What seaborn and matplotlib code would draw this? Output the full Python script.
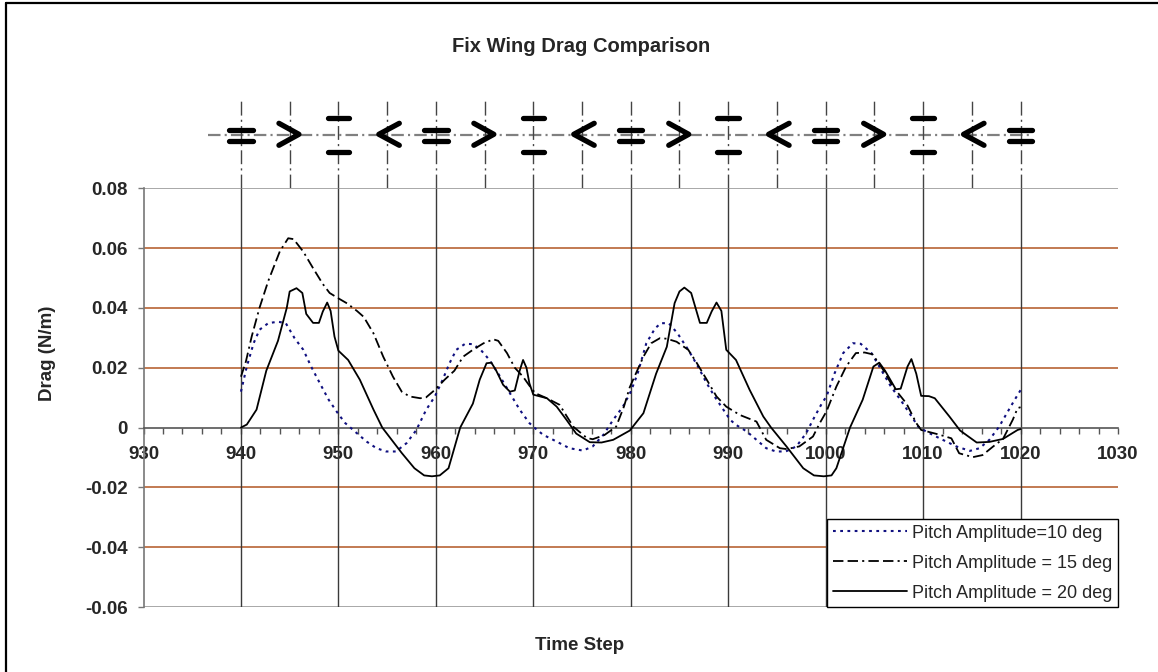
import numpy as np
import pandas as pd
import matplotlib
matplotlib.use('Agg')
import matplotlib.pyplot as plt
import seaborn as sns
from matplotlib.ticker import MultipleLocator
from matplotlib.lines import Line2D

# Pitch amplitude = 10 deg
time_10 = [940.0, 940.6, 941.3, 941.9, 942.8, 943.8, 944.6, 945.5, 946.4, 947.2, 948.1, 949.0,
           950.0, 950.7, 951.9, 952.9, 953.9, 954.9, 955.9, 957.0, 958.0, 959.0, 959.9, 960.7,
           961.4, 962.1, 963.0, 963.8, 964.6, 965.5, 966.6, 967.6, 968.6, 969.6, 970.1, 971.0,
           972.4, 973.7, 975.1, 976.1, 977.2, 978.2, 979.2, 980.0, 980.7, 981.6, 982.5, 983.1,
           983.9, 984.8, 985.9, 986.9, 987.8, 988.6, 989.5, 990.2, 990.8, 991.9, 992.9, 993.9,
           994.9, 995.9, 997.0, 998.0, 998.7, 999.6, 1000.1, 1000.9, 1001.8, 1002.8, 1003.6,
           1004.7, 1005.7, 1006.7, 1007.8, 1008.6, 1009.5, 1010.3, 1011.7, 1013.4, 1014.8,
           1015.8, 1016.8, 1017.8, 1018.7, 1019.4, 1020.0]
drag_10 = [0.012, 0.0204, 0.0282, 0.0327, 0.0349, 0.0354, 0.0349, 0.0299, 0.026, 0.0204, 0.0148, 0.0093,
           0.0045, 0.0015, -0.0019, -0.0047, -0.0069, -0.008, -0.008, -0.0052, -0.0008, 0.0059, 0.0104, 0.016,
           0.0215, 0.026, 0.028, 0.0279, 0.026, 0.0226, 0.017, 0.0115, 0.006, 0.0015, 0.0, -0.0024,
           -0.0047, -0.0069, -0.0077, -0.0063, -0.0024, 0.0026, 0.007, 0.012, 0.018, 0.0282, 0.0332, 0.0349,
           0.0349, 0.0315, 0.026, 0.0204, 0.0148, 0.0104, 0.006, 0.0026, 0.0009, -0.0013, -0.0041, -0.0069,
           -0.008, -0.008, -0.0063, -0.0019, 0.0026, 0.008, 0.0105, 0.018, 0.0249, 0.0282, 0.028,
           0.0249, 0.0193, 0.0137, 0.0087, 0.0048, 0.0003, -0.0013, -0.0036, -0.0063, -0.0078,
           -0.0069, -0.0041, 0.0003, 0.0054, 0.0093, 0.0125]

# Pitch amplitude = 15 deg
time_15 = [940.0, 940.5, 941.1, 941.9, 942.8, 944.0, 944.85, 945.4, 946.4, 947.4, 948.4, 949.1,
           950.0, 950.9, 951.9, 952.6, 953.6, 954.6, 955.6, 956.5, 957.3, 958.4, 959.0, 959.9,
           960.9, 961.9, 962.8, 963.8, 964.9, 965.9, 966.4, 967.3, 968.1, 968.95, 969.6, 970.2,
           971.4, 972.7, 974.1, 975.5, 976.1, 977.3, 978.5, 979.3, 979.9, 981.3, 982.1, 983.0,
           983.7, 984.7, 985.9, 986.7, 987.8, 988.8, 989.8, 991.2, 992.9, 993.9, 995.3, 996.0,
           997.3, 998.7, 999.4, 1000.1, 1001.1, 1002.1, 1003.1, 1004.0, 1004.8, 1005.7, 1006.9,
           1008.3, 1009.3, 1009.8, 1011.7, 1012.9, 1013.7, 1015.1, 1016.1, 1017.2, 1018.2,
           1019.2, 1019.7, 1020.0]
drag_15 = [0.017, 0.022, 0.0304, 0.040, 0.049, 0.059, 0.0633, 0.063, 0.0588, 0.0533, 0.048, 0.045,
           0.0432, 0.0415, 0.039, 0.037, 0.0315, 0.0237, 0.017, 0.012, 0.0104, 0.0098, 0.0101, 0.0126,
           0.016, 0.019, 0.0237, 0.026, 0.0282, 0.0295, 0.029, 0.0249, 0.020, 0.017, 0.014, 0.0115,
           0.0098, 0.0076, 0.0003, -0.0035, -0.0039, -0.0025, 0.0003, 0.007, 0.0135, 0.0237, 0.0282, 0.0299,
           0.0297, 0.0287, 0.026, 0.022, 0.016, 0.0104, 0.007, 0.0042, 0.002, -0.0041, -0.0069, -0.0072,
           -0.0063, -0.003, 0.0015, 0.0055, 0.0137, 0.0204, 0.0249, 0.0251, 0.0245, 0.0204, 0.0137,
           0.008, 0.0015, -0.0008, -0.0024, -0.0036, -0.0086, -0.0099, -0.0092, -0.0063, -0.0038,
           0.0026, 0.0065, 0.0068]

# Pitch amplitude = 20 deg
time_20 = [940.0, 940.6, 941.6, 942.6, 943.8, 944.7, 945.0, 945.7, 946.3, 946.7, 947.4, 948.0,
           948.4, 948.85, 949.2, 949.6, 950.0, 951.0, 952.2, 953.6, 954.5, 956.5, 957.8, 958.8,
           959.6, 960.4, 961.3, 962.5, 963.8, 964.5, 965.2, 965.7, 966.2, 966.9, 967.6, 968.1,
           968.6, 968.95, 969.3, 969.6, 970.0, 971.4, 972.4, 973.4, 974.4, 975.8, 977.0, 978.2,
           979.9, 981.3, 982.6, 983.7, 984.5, 985.0, 985.5, 986.2, 987.1, 987.8, 988.3, 988.8,
           989.3, 989.8, 990.8, 992.2, 993.6, 994.4, 996.0, 997.7, 998.8, 999.8, 1000.6, 1001.1,
           1002.5, 1003.8, 1004.9, 1005.5, 1006.1, 1007.2, 1007.7, 1008.4, 1008.8, 1009.3,
           1009.8, 1010.6, 1011.2, 1012.7, 1013.8, 1015.5, 1016.8, 1018.2, 1019.7, 1020.0]
drag_20 = [0.0, 0.001, 0.006, 0.019, 0.029, 0.040, 0.0455, 0.0466, 0.045, 0.038, 0.035, 0.035,
           0.0388, 0.0418, 0.039, 0.0304, 0.0257, 0.0226, 0.016, 0.006, 0.0, -0.0085, -0.0136, -0.016,
           -0.0163, -0.016, -0.0136, 0.0, 0.008, 0.016, 0.0215, 0.0217, 0.019, 0.0143, 0.012, 0.0124,
           0.019, 0.0226, 0.020, 0.0148, 0.011, 0.0098, 0.007, 0.0026, -0.002, -0.0049, -0.005, -0.0041,
           -0.001, 0.0048, 0.018, 0.027, 0.0416, 0.0455, 0.0468, 0.045, 0.035, 0.035, 0.0388, 0.0418,
           0.039, 0.026, 0.0226, 0.0126, 0.0037, 0.0, -0.0064, -0.0136, -0.016, -0.0163, -0.016, -0.0136,
           0.0, 0.0093, 0.0204, 0.0217, 0.019, 0.0128, 0.013, 0.0204, 0.0229, 0.018,
           0.0106, 0.0105, 0.0098, 0.0037, -0.001, -0.005, -0.0048, -0.0038, -0.0008, -0.0005]

series_labels = ['Pitch Amplitude=10 deg', 'Pitch Amplitude = 15 deg', 'Pitch Amplitude = 20 deg']

x_ticks = [930, 940, 950, 960, 970, 980, 990, 1000, 1010, 1020, 1030]
y_ticks = [-0.06, -0.04, -0.02, 0, 0.02, 0.04, 0.06, 0.08]
y_tick_labels = ['-0.06', '-0.04', '-0.02', '0', '0.02', '0.04', '0.06', '0.08']

# wing attitude glyphs drawn above the plot, one every 5 steps
glyph_steps = [940, 945, 950, 955, 960, 965, 970, 975, 980, 985, 990, 995, 1000, 1005, 1010, 1015, 1020]
glyphs = ['=', '>', 'T', '<'] * 4 + ['=']

sns.set_theme(style='white')
plt.rcParams['font.family'] = ['Liberation Sans', 'DejaVu Sans']
plt.rcParams['lines.scale_dashes'] = False

fig = plt.figure(figsize=(11.58, 6.72), dpi=100)
W, H = 1158, 672
ax = fig.add_axes([143.5 / W, 1 - 607 / H, 974.5 / W, (607 - 188.3) / H])

# grid
for yv in [-0.04, -0.02, 0.02, 0.04, 0.06]:
    ax.axhline(yv, color='#C27A52', lw=1.4, zorder=1)
for yv in [-0.06, 0.08]:
    ax.axhline(yv, color='#9A9A9A', lw=1.2, zorder=1)
ax.vlines(x_ticks[1:-1], -0.06, 0.08, color='#3A3A3A', lw=1.0, zorder=1)

styles = [dict(color='#101080', lw=1.5, linestyle=(0, (2.0, 3.2))),
          dict(color='black', lw=1.3, linestyle=(0, (7.5, 3, 7.5, 3, 1.5, 3))),
          dict(color='black', lw=1.3, linestyle='-')]
for (t, d), lab, st in zip([(time_10, drag_10), (time_15, drag_15), (time_20, drag_20)],
                           series_labels, styles):
    sns.lineplot(x=t, y=d, ax=ax, label=lab, estimator=None, sort=False, zorder=3, **st)

ax.set_xlim(930, 1030)
ax.set_ylim(-0.06, 0.08)
ax.set_xticks(x_ticks)
ax.set_xticklabels([str(v) for v in x_ticks])
ax.xaxis.set_minor_locator(MultipleLocator(2))
ax.set_yticks(y_ticks)
ax.set_yticklabels(y_tick_labels)

for s in ['top', 'right']:
    ax.spines[s].set_visible(False)
ax.spines['bottom'].set_position(('data', 0))
ax.spines['bottom'].set_color('#555555')
ax.spines['left'].set_color('#777777')
ax.spines['bottom'].set_linewidth(1.2)
ax.spines['left'].set_linewidth(1.2)
ax.tick_params(axis='x', which='both', direction='out', length=4, width=1, color='#555555',
               bottom=True, labelsize=13.5, pad=9)
ax.tick_params(axis='y', direction='out', length=4.5, width=1, color='#777777',
               left=True, labelsize=13.5, pad=7)
for lab in ax.get_xticklabels() + ax.get_yticklabels():
    lab.set_fontweight('bold')
ax.set_xlabel('')
ax.set_ylabel('')

leg = ax.legend(loc='lower right', bbox_to_anchor=(1.0, 0.0), borderaxespad=0, fontsize=13,
                frameon=True, fancybox=False, handlelength=4.1, handletextpad=0.3,
                borderpad=0.3, labelspacing=0.72)
leg.get_frame().set_edgecolor('black')
leg.get_frame().set_linewidth(1.0)
leg.get_frame().set_facecolor('white')
leg.get_frame().set_alpha(1)
leg.set_zorder(5)

# top band with the wing attitude glyphs
top = fig.add_axes([143.5 / W, 1 - 188.3 / H, 974.5 / W, 93 / H])
top.set_xlim(930, 1030)
top.set_ylim(0, 93)
top.axis('off')
top.plot([936.6, 1021], [53, 53], color='#808080', lw=1.6, linestyle=(0, (9, 3, 1.5, 3)))
for xs, g in zip(glyph_steps, glyphs):
    top.plot([xs, xs], [0, 88], color='#444444', lw=1.0, linestyle=(0, (10, 3, 1.5, 3)))
    kw = dict(color='black', lw=3.8, solid_capstyle='round', solid_joinstyle='round')
    if g == '=':
        top.plot([xs - 1.2, xs + 1.2], [58.5, 58.5], **kw)
        top.plot([xs - 1.2, xs + 1.2], [47.5, 47.5], **kw)
    elif g == 'T':
        top.plot([xs - 1.1, xs + 1.1], [70, 70], **kw)
        top.plot([xs - 1.1, xs + 1.1], [36, 36], **kw)
    elif g == '>':
        top.plot([xs - 1.1, xs + 0.95, xs - 1.1], [65, 54, 43], **kw)
    elif g == '<':
        top.plot([xs + 1.25, xs - 0.85, xs + 1.25], [65, 54, 43], **kw)

fig.text(581 / W, 1 - 47 / H, 'Fix Wing Drag Comparison', ha='center', va='center',
         fontsize=14.5, fontweight='bold')
fig.text(47 / W, 1 - 353 / H, 'Drag (N/m)', ha='center', va='center', rotation=90,
         fontsize=13.5, fontweight='bold')
fig.text(580 / W, 1 - 645 / H, 'Time Step', ha='center', va='center',
         fontsize=13.5, fontweight='bold')

# outer chart border (left and top edges visible)
fig.add_artist(Line2D([6 / W, 6 / W], [0, 1 - 3 / H], transform=fig.transFigure, color='black', lw=1.6))
fig.add_artist(Line2D([6 / W, 1], [1 - 3 / H, 1 - 3 / H], transform=fig.transFigure, color='black', lw=1.6))

fig.savefig('out.png', dpi=100)
